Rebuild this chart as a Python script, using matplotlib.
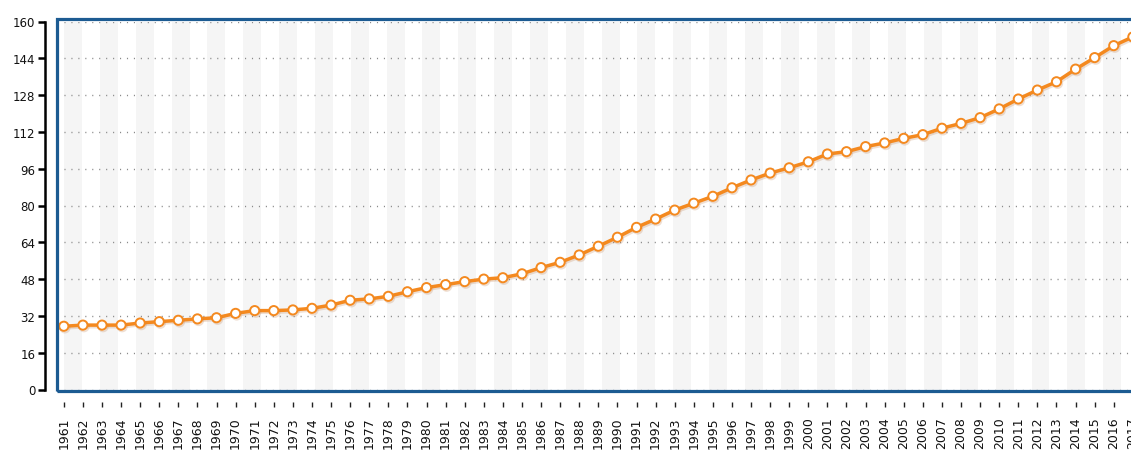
import matplotlib
matplotlib.use("Agg")
import matplotlib.pyplot as plt
import matplotlib.patheffects as pe
from matplotlib.patches import Rectangle

# datos (1961-2017)
years = list(range(1961, 2018))
values = [27.5, 28.0, 28.0, 28.0, 28.9, 29.5, 30.1, 30.7, 31.2, 33.1,
          34.3, 34.3, 34.6, 35.3, 36.7, 38.8, 39.4, 40.5, 42.5, 44.3,
          45.6, 46.9, 48.0, 48.6, 50.3, 53.0, 55.3, 58.5, 62.3, 66.2,
          70.5, 74.1, 78.0, 81.0, 84.0, 87.7, 91.1, 94.1, 96.4, 99.0,
          102.4, 103.4, 105.6, 107.2, 109.2, 110.8, 113.6, 115.7, 118.2, 122.0,
          126.3, 130.2, 133.8, 139.3, 144.3, 149.5, 153.3]
y_ticks = [0, 16, 32, 48, 64, 80, 96, 112, 128, 144, 160]
x_labels = [str(y) for y in years]

W, H, DPI = 1131, 460, 100
PX_YEAR = 19.09          # pixeles por anio
X_FIRST = 63.8           # pixel del primer punto
AX_LEFT = 57
Y_TOP, Y_BOT = 22.5, 390.5

ORANGE = '#f4891f'
BLUE = '#1c5b92'

fig = plt.figure(figsize=(W / DPI, H / DPI), dpi=DPI)
x0 = years[0] - (X_FIRST - AX_LEFT) / PX_YEAR
x1 = 2018.5
ax_w = (x1 - x0) * PX_YEAR
ax = fig.add_axes([AX_LEFT / W, (H - Y_BOT) / H, ax_w / W, (Y_BOT - Y_TOP) / H])
ax.set_xlim(x0, x1)
ax.set_ylim(0, 160)

# spines primero (set_position reinicia los ticks)
for s in ['top', 'right']:
    ax.spines[s].set_visible(False)
ax.spines['left'].set_position(('outward', 8.6))
ax.spines['left'].set_color('black')
ax.spines['left'].set_linewidth(1.8)
ax.spines['left'].set_bounds(0, 160)
ax.spines['bottom'].set_position(('outward', 9))
ax.spines['bottom'].set_visible(False)

# franjas de fondo (patron decorativo, periodo ~35.8 px)
period = 35.83
start = 100 - 2 * period
while start < AX_LEFT + ax_w:
    a = years[0] + (start - X_FIRST) / PX_YEAR
    b = years[0] + (start + period / 2 - X_FIRST) / PX_YEAR
    ax.axvspan(a, b, color='#f5f5f5', lw=0, zorder=0)
    start += period

ax.grid(axis='y', color='#8a8a8a', linestyle=(0, (0.8, 4.2)), lw=1.0, zorder=1)
ax.grid(axis='x', visible=False)

ax.plot(years, values, color=ORANGE, lw=2.5, marker='o', ms=6.6,
        mfc='white', mec=ORANGE, mew=1.4, zorder=3,
        path_effects=[pe.SimpleLineShadow(offset=(0.8, -1.2), shadow_color='#c08050', alpha=0.25),
                      pe.Normal()])

# marco azul del area de trazado
ax.add_patch(Rectangle((0, -0.0033), 1, 1.0101, transform=ax.transAxes, fill=False,
                       edgecolor=BLUE, lw=2.3, clip_on=False, zorder=5))

ax.set_yticks(y_ticks)
ax.tick_params(axis='y', direction='out', length=5, width=1.8, color='black',
               labelsize=8.5, pad=2, labelcolor='#111')

ax.set_xticks(years)
ax.set_xticklabels(x_labels)
ax.tick_params(axis='x', direction='out', length=3.5, width=1.0, color='#222',
               labelsize=9, pad=7, labelcolor='#111', labelrotation=90)

fig.savefig('out.png', dpi=DPI)
